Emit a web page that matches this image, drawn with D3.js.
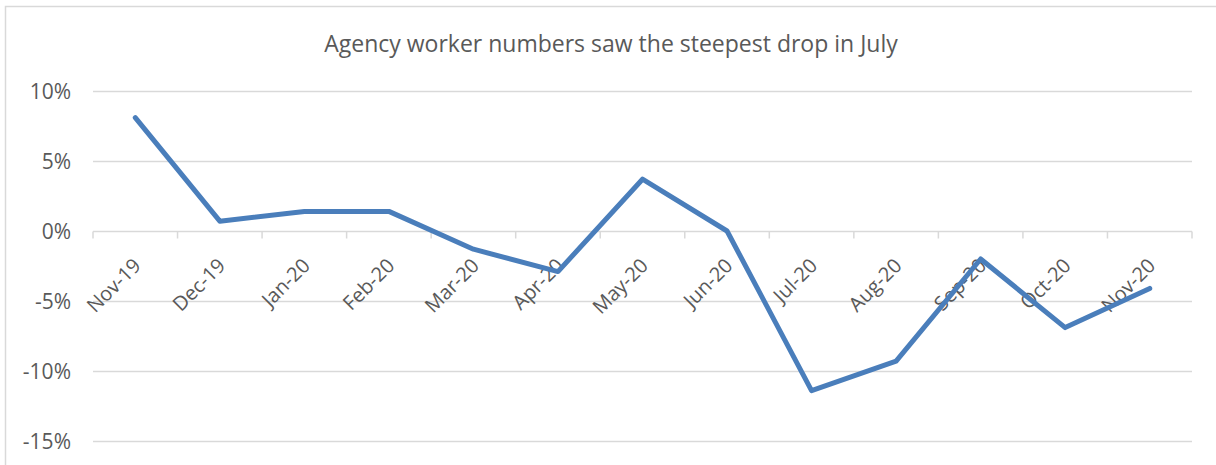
<!DOCTYPE html>
<html>
<head>
<meta charset="utf-8">
<script src="https://cdn.jsdelivr.net/npm/d3@7"></script>
<style>
  body { margin: 0; background: #fff; }
  text { font-family: "Open Sans", Lato, sans-serif; fill: #595959; }
</style>
</head>
<body>
<div id="chart"></div>
<script>
// chart data
const months = ["Nov-19", "Dec-19", "Jan-20", "Feb-20", "Mar-20", "Apr-20", "May-20",
  "Jun-20", "Jul-20", "Aug-20", "Sep-20", "Oct-20", "Nov-20"];
const changes = [8.1, 0.7, 1.4, 1.4, -1.3, -2.9, 3.7, 0.0, -11.4, -9.3, -2.0, -6.9, -4.1];
const yTicks = [10, 5, 0, -5, -10, -15];
const title = "Agency worker numbers saw the steepest drop in July";

const W = 1216, H = 465;
const margin = { top: 91, right: 24, bottom: 24, left: 93 };
const width = W - margin.left - margin.right;

const svg = d3.select("#chart")
  .append("svg")
  .attr("width", W)
  .attr("height", H);

// outer chart border (bottom/right fall outside the crop)
svg.append("rect")
  .attr("x", 5.5).attr("y", 6.5)
  .attr("width", W + 20).attr("height", H + 20)
  .attr("fill", "none")
  .attr("stroke", "#d9d9d9")
  .attr("stroke-width", 1.5);

svg.append("text")
  .attr("x", 611).attr("y", 52)
  .attr("text-anchor", "middle")
  .style("font-size", "23px")
  .text(title);

const x = d3.scaleBand().domain(months).range([margin.left, margin.left + width]);
const y = d3.scaleLinear().domain([-15, 10]).range([441, 91]);

// gridlines
svg.append("g")
  .selectAll("line")
  .data(yTicks.filter(d => d !== 0))
  .join("line")
  .attr("x1", margin.left).attr("x2", margin.left + width)
  .attr("y1", d => y(d) + 0.5).attr("y2", d => y(d) + 0.5)
  .attr("stroke", "#d9d9d9")
  .attr("stroke-width", 1.5);

// y labels
svg.append("g")
  .selectAll("text")
  .data(yTicks)
  .join("text")
  .attr("x", 71)
  .attr("y", d => y(d))
  .attr("dy", "0.36em")
  .attr("text-anchor", "end")
  .style("font-size", "21px")
  .text(d => d + "%");

// zero axis with ticks between categories
const xAxis = svg.append("g")
  .attr("transform", `translate(0, ${y(0) + 0.5})`);
xAxis.append("line")
  .attr("x1", margin.left).attr("x2", margin.left + width)
  .attr("stroke", "#d9d9d9").attr("stroke-width", 1.5);
xAxis.selectAll(".tick")
  .data(months.map(m => x(m)).concat([margin.left + width]))
  .join("line")
  .attr("class", "tick")
  .attr("x1", d => d).attr("x2", d => d)
  .attr("y1", 0).attr("y2", 7)
  .attr("stroke", "#d9d9d9").attr("stroke-width", 1.5);

// category labels, rotated
xAxis.selectAll(".lbl")
  .data(months)
  .join("text")
  .attr("class", "lbl")
  .attr("text-anchor", "end")
  .attr("transform", d => `translate(${x(d) + x.bandwidth() / 2 - 3}, 25.5) rotate(-45)`)
  .attr("dy", "0.7em")
  .style("font-size", "20px")
  .text(d => d);

// the line itself
const line = d3.line()
  .x((d, i) => x(months[i]) + x.bandwidth() / 2)
  .y(d => y(d));

svg.append("path")
  .datum(changes)
  .attr("d", line)
  .attr("fill", "none")
  .attr("stroke", "#4a7ebb")
  .attr("stroke-width", 5)
  .attr("stroke-linejoin", "round")
  .attr("stroke-linecap", "round");
</script>
</body>
</html>
